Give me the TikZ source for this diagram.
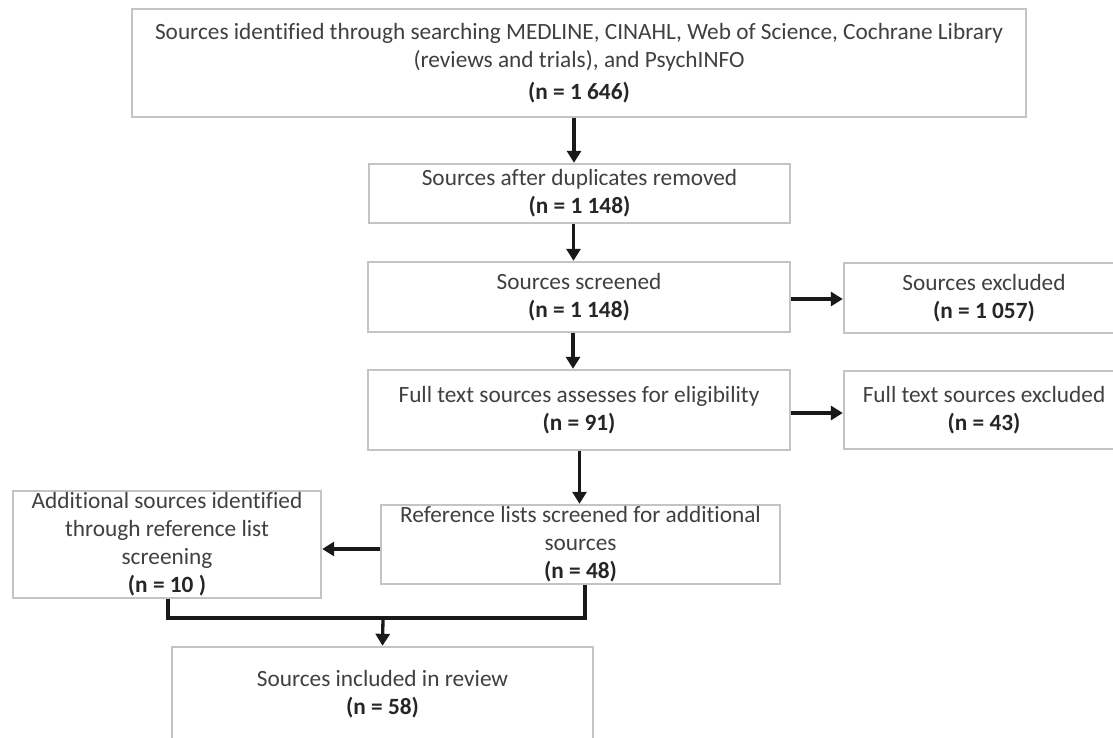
\documentclass[tikz,border=0pt]{standalone}
\usepackage{fontspec}
\setmainfont[Ligatures={NoCommon}]{Carlito}
\usetikzlibrary{arrows.meta}
\definecolor{boxgray}{HTML}{C4C4C4}
\definecolor{txtgray}{HTML}{404040}
\definecolor{ngray}{HTML}{262626}
\tikzset{
  box/.style={draw=boxgray, line width=1.4pt, fill=white, inner sep=0pt, align=center,
    text=txtgray, font=\fontsize{23.3}{28}\selectfont},
  conn/.style={line width=3.3pt, black!90},
  arr/.style={conn, -{Triangle[length=12pt,width=14pt]}, shorten >=0.5pt},
}
\newcommand{\nn}[1]{{\bfseries\color{ngray}#1}}
\begin{document}
\begin{tikzpicture}[x=1pt,y=-1pt]
\useasboundingbox (0,0) rectangle (1113,738);
\node[box, minimum width=894pt, minimum height=108pt] (b1) at (579,63)
  {Sources identified through searching MEDLINE, CINAHL, Web of Science, Cochrane Library\\
   (reviews and trials), and PsychINFO\\[4pt] \nn{(n = 1 646)}};
\node[box, minimum width=421pt, minimum height=59pt] (b2) at (579.5,193.5)
  {Sources after duplicates removed\\ \nn{(n = 1 148)}};
\node[box, minimum width=422pt, minimum height=70pt] (b3) at (579,297)
  {Sources screened\\ \nn{(n = 1 148)}};
\node[box, minimum width=280pt, minimum height=70pt] (b4) at (984,298)
  {Sources excluded\\ \nn{(n = 1 057)}};
\node[box, minimum width=422pt, minimum height=80pt] (b5) at (579,410)
  {Full text sources assesses for eligibility\\ \nn{(n = 91)}};
\node[box, minimum width=280pt, minimum height=78pt] (b6) at (984,410)
  {Full text sources excluded\\ \nn{(n = 43)}};
\node[box, minimum width=399pt, minimum height=79pt] (b7) at (580.5,544.5)
  {Reference lists screened for additional\\ sources\\ \nn{(n = 48)}};
\node[box, minimum width=308pt, minimum height=107pt] (b8) at (167,544.5)
  {Additional sources identified\\ through reference list\\ screening\\ \nn{(n = 10 )}};
\node[box, minimum width=421pt, minimum height=94pt] (b9) at (382.5,694)
  {Sources included in review\\ \nn{(n = 58)}};
\coordinate (j) at (383,618);
\draw[arr] ([xshift=-5pt]b1.south) -- ([xshift=-5pt]b1.south |- b2.north);
\draw[arr] ([xshift=-6pt]b2.south) -- ([xshift=-6pt]b2.south |- b3.north);
\draw[arr] ([xshift=-6pt]b3.south) -- ([xshift=-6pt]b3.south |- b5.north);
\draw[arr] ([xshift=0.5pt]b5.south) -- ([xshift=0.5pt]b5.south |- b7.north);
\draw[arr] ([yshift=-2pt]b3.east) -- ([yshift=-2pt]b3.east -| b4.west);
\draw[arr] ([yshift=-3pt]b5.east) -- ([yshift=-3pt]b5.east -| b6.west);
\draw[arr] ([yshift=-4.5pt]b7.west) -- ([yshift=-4.5pt]b7.west -| b8.east);
\draw[conn] ([xshift=1pt]b8.south) |- (j) -| ([xshift=4.5pt]b7.south);
\draw[arr] (j) -- (b9.north);
\end{tikzpicture}
\end{document}
